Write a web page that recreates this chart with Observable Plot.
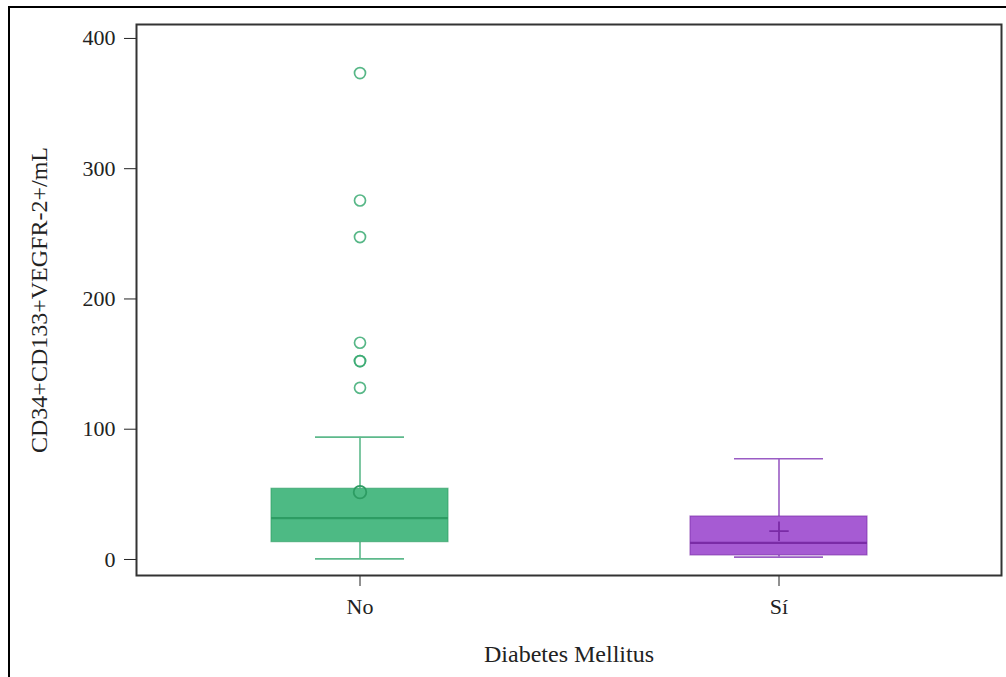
<!DOCTYPE html>
<html>
<head>
<meta charset="utf-8">
<script src="https://cdn.jsdelivr.net/npm/d3@7"></script>
<script src="https://cdn.jsdelivr.net/npm/@observablehq/plot@0.6"></script>
<style>
  html, body { margin: 0; padding: 0; background: #fff; }
  #wrap { position: relative; width: 1006px; height: 677px; overflow: hidden; }
  #wrap svg, #wrap svg text { font-family: "Liberation Serif", "DejaVu Serif", serif !important; }
  #wrap g[aria-label="x-axis label"], #wrap g[aria-label="y-axis label"] { font-size: 24px; }
  #border { position: absolute; left: 8px; top: 6px; width: 1010px; height: 700px;
            border-top: 2.5px solid #000; border-left: 2.5px solid #000; pointer-events: none; }
</style>
</head>
<body>
<div id="wrap"><div id="border"></div></div>
<script>
// Groups
const groups = ["No", "Sí"];
// Box statistics per group
const q1 = [13.3, 3.1];
const median = [31.7, 12.8];
const q3 = [54.3, 33.0];
const whiskerLow = [0.5, 1.8];
const whiskerHigh = [93.9, 77.3];
const means = [51.7, 21.7];
// Outliers (group "No")
const outlierGroup = ["No", "No", "No", "No", "No", "No", "No"];
const outlierValue = [373.4, 275.6, 247.5, 166.4, 152.3, 152.3, 131.8];
// Y axis ticks
const yTicks = [0, 100, 200, 300, 400];

const fills = ["#4dba84", "#a65bd3"];
const strokes = ["#2d9c63", "#7a2ba6"];
const whiskerColors = ["#5db98b", "#9a5cc4"];
const meanSymbols = ["circle", "plus"];

const boxes = groups.map((g, i) => ({
  group: g, q1: q1[i], median: median[i], q3: q3[i],
  lo: whiskerLow[i], hi: whiskerHigh[i], mean: means[i]
}));
const outliers = outlierGroup.map((g, i) => ({group: g, value: outlierValue[i]}));

const chart = Plot.plot({
  width: 1006,
  height: 677,
  marginLeft: 136,
  marginRight: 5,
  marginTop: 24,
  marginBottom: 102,
  style: {fontSize: "22px", color: "#222", background: "transparent"},
  x: {type: "band", domain: groups, paddingInner: 0.5776, paddingOuter: 0.321,
      label: "Diabetes Mellitus", labelAnchor: "center", labelArrow: "none", labelOffset: 86,
      tickSize: 11, tickPadding: 12},
  y: {domain: [-12.3, 410.7], ticks: yTicks, label: "CD34+CD133+VEGFR-2+/mL", labelArrow: "none",
      labelAnchor: "center", labelOffset: 107, tickSize: 12, tickPadding: 9, tickFormat: d3.format("d")},
  marks: [
    // whiskers
    Plot.ruleX(boxes, {x: "group", y1: "q3", y2: "hi", stroke: (d, i) => whiskerColors[i], strokeWidth: 1.6}),
    Plot.ruleX(boxes, {x: "group", y1: "lo", y2: "q1", stroke: (d, i) => whiskerColors[i], strokeWidth: 1.6}),
    Plot.tickY(boxes, {x: "group", y: "hi", stroke: (d, i) => whiskerColors[i], strokeWidth: 1.6, insetLeft: 44, insetRight: 44}),
    Plot.tickY(boxes, {x: "group", y: "lo", stroke: (d, i) => whiskerColors[i], strokeWidth: 1.6, insetLeft: 44, insetRight: 44}),
    // box
    Plot.barY(boxes, {x: "group", y1: "q1", y2: "q3", fill: (d, i) => fills[i], stroke: (d, i) => strokes[i],
      strokeWidth: 1.2, strokeOpacity: 0.6}),
    // median
    Plot.tickY(boxes, {x: "group", y: "median", stroke: (d, i) => strokes[i], strokeWidth: 2.2}),
    // mean
    Plot.dot(boxes, {x: "group", y: "mean", symbol: (d, i) => meanSymbols[i], r: 6.3,
      stroke: (d, i) => strokes[i], strokeWidth: 1.8, fill: "none"}),
    // outliers
    Plot.dot(outliers, {x: "group", y: "value", r: 5.5, stroke: "#3aaa72", strokeOpacity: 0.85,
      strokeWidth: 1.7, fill: "none"}),
    Plot.frame({stroke: "#333", strokeWidth: 2})
  ]
});

document.getElementById("wrap").prepend(chart);
</script>
</body>
</html>
